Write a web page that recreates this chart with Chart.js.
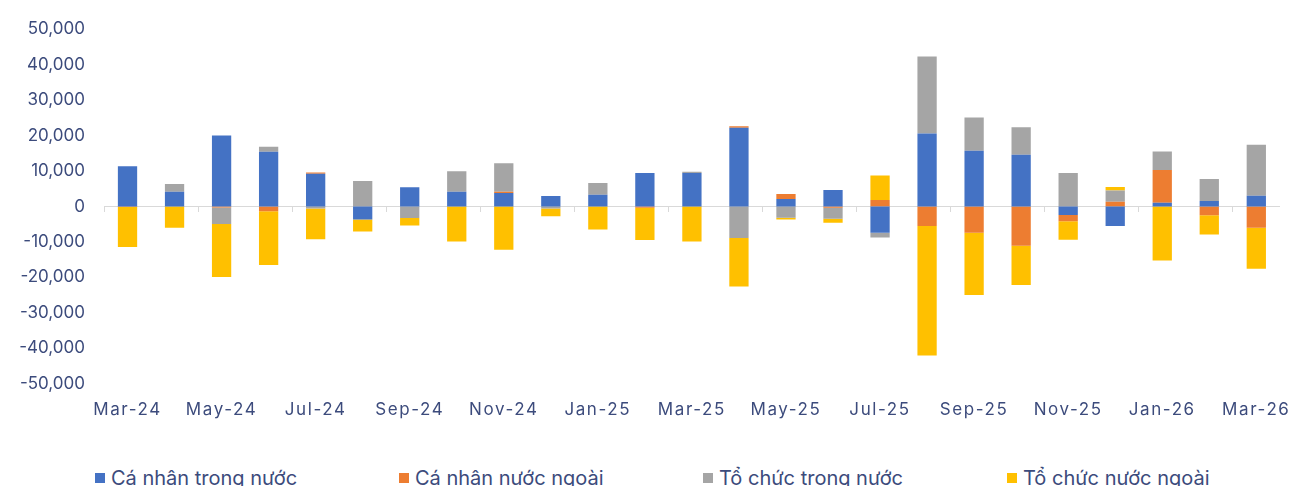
<!DOCTYPE html>
<html>
<head>
<meta charset="utf-8">
<script src="https://cdn.jsdelivr.net/npm/chart.js@4"></script>
<style>
  body { margin: 0; background: #fff; font-family: Inter, "Noto Sans", sans-serif; }
  #wrap { position: relative; width: 1302px; height: 486px; overflow: hidden; }
  #myChart { position: absolute; top: 0; left: 0; }
  #legend { position: absolute; top: 466px; left: 0; width: 1302px; height: 30px; }
  .item { position: absolute; top: 0; display: flex; align-items: center; font-size: 20px; color: #3C4B7C; white-space: nowrap; }
  .box { width: 10px; height: 10px; margin-right: 6px; }
</style>
</head>
<body>
<div id="wrap">
  <canvas id="myChart" width="1302" height="436"></canvas>
  <div id="legend"></div>
</div>
<script>
// thang
var labels = ['Mar-24','Apr-24','May-24','Jun-24','Jul-24','Aug-24','Sep-24','Oct-24','Nov-24','Dec-24',
  'Jan-25','Feb-25','Mar-25','Apr-25','May-25','Jun-25','Jul-25','Aug-25','Sep-25','Oct-25',
  'Nov-25','Dec-25','Jan-26','Feb-26','Mar-26'];

var caNhanTrongNuoc = [11300, 4100, 20000, 15400, 9200, -3700, 5400, 4100, 3800, 2950,
  3300, 9400, 9400, 22200, 2100, 4600, -7400, 20600, 15700, 14600,
  -2400, -5500, 1000, 1550, 3000];
var caNhanNuocNgoai = [-150, 0, -300, -1400, 400, 0, 0, 0, 300, 0,
  0, -400, 0, 400, 1400, -400, 1800, -5500, -7400, -11100,
  -1800, 1300, 9300, -2500, -6000];
var toChucTrongNuoc = [0, 2200, -4700, 1400, -600, 7200, -3300, 5800, 8100, -600,
  3300, 0, 400, -8900, -3200, -3100, -1400, 21700, 9400, 7700,
  9400, 3200, 5200, 6200, 14400];
var toChucNuocNgoai = [-11300, -6000, -14900, -15100, -8700, -3400, -2100, -9900, -12200, -2200,
  -6500, -9100, -9900, -13700, -500, -1100, 6900, -36600, -17600, -11100,
  -5200, 1000, -15300, -5400, -11600];

var yTicks = { min: -50000, max: 50000, step: 10000 };

var series = [
  { name: 'Cá nhân trong nước', data: caNhanTrongNuoc, color: '#4472C4' },
  { name: 'Cá nhân nước ngoài', data: caNhanNuocNgoai, color: '#ED7D31' },
  { name: 'Tổ chức trong nước', data: toChucTrongNuoc, color: '#A5A5A5' },
  { name: 'Tổ chức nước ngoài', data: toChucNuocNgoai, color: '#FFC000' }
];

var textColor = '#3C4B7C';
var tickFont = { family: 'Inter', size: 17 };

// nhan truc x hoi gian chu
var spacedXLabels = {
  id: 'spacedXLabels',
  beforeDraw: function (chart) {
    var xs = chart.scales.x;
    if (xs._spaced) return;
    var orig = xs.drawLabels;
    xs.drawLabels = function (area) {
      chart.ctx.save();
      chart.ctx.letterSpacing = '1.6px';
      orig.call(xs, area);
      chart.ctx.restore();
    };
    xs._spaced = true;
  }
};

var ctx = document.getElementById('myChart').getContext('2d');
var myChart = new Chart(ctx, {
  type: 'bar',
  data: {
    labels: labels,
    datasets: series.map(function (s) {
      return {
        label: s.name,
        data: s.data,
        backgroundColor: s.color,
        borderWidth: 0,
        xAxisID: 'x',
        barPercentage: 0.41,
        categoryPercentage: 1
      };
    })
  },
  plugins: [spacedXLabels],
  options: {
    responsive: false,
    devicePixelRatio: 1,
    animation: false,
    layout: { padding: { top: 27, right: 15, bottom: 0, left: 0 } },
    plugins: { legend: { display: false }, tooltip: { enabled: false } },
    scales: {
      x: {
        stacked: true,
        grid: { display: false, drawTicks: false },
        border: { display: false },
        ticks: {
          color: textColor,
          font: tickFont,
          padding: 16,
          autoSkip: false,
          maxRotation: 0,
          callback: function (v, i) { return i % 2 === 0 ? labels[i] : ''; }
        }
      },
      // truc ngang tai 0, chi co vach chia
      x2: {
        type: 'category',
        labels: labels,
        position: { y: 0 },
        offset: true,
        afterFit: function (scale) { scale.height = 0; },
        grid: {
          offset: true,
          drawOnChartArea: false,
          drawTicks: true,
          tickLength: 5,
          color: function (c) { return c.index % 2 === 0 ? '#D9D9D9' : 'rgba(0,0,0,0)'; }
        },
        border: { display: true, color: '#D9D9D9', width: 1 },
        ticks: { display: false, autoSkip: false }
      },
      y: {
        stacked: true,
        min: yTicks.min,
        max: yTicks.max,
        afterFit: function (scale) { scale.width = 104; },
        grid: { display: false, drawTicks: false },
        border: { display: false },
        ticks: {
          stepSize: yTicks.step,
          color: textColor,
          font: tickFont,
          padding: 19,
          callback: function (v) { return v.toLocaleString('en-US'); }
        }
      }
    }
  }
});

// legend
var legendEl = document.getElementById('legend');
series.forEach(function (s, i) {
  var item = document.createElement('div');
  item.className = 'item';
  item.style.left = (95 + i * 304) + 'px';
  item.innerHTML = '<span class="box" style="background:' + s.color + '"></span><span>' + s.name + '</span>';
  legendEl.appendChild(item);
});
</script>
</body>
</html>
